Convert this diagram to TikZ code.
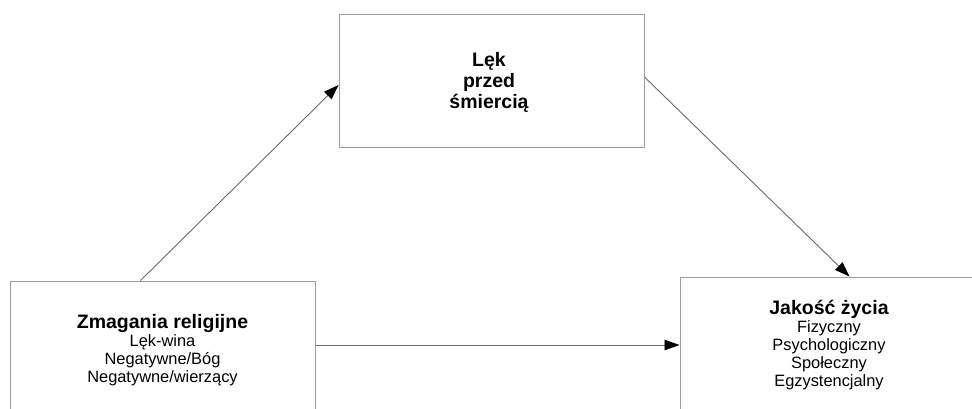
\documentclass[tikz,border=0pt]{standalone}
\usepackage{fontspec}
\setmainfont{Liberation Sans}
\usetikzlibrary{arrows.meta}
\definecolor{boxgray}{gray}{0.62}
\definecolor{linegray}{gray}{0.42}
\begin{document}
\begin{tikzpicture}[x=1pt,y=-1pt,
  box/.style={draw=boxgray, line width=1pt, minimum width=305pt, inner sep=0pt},
  conn/.style={draw=linegray, line width=0.9pt, -{Triangle[length=15pt,width=10.5pt,color=black]}},
  txt/.style={align=center, inner sep=0pt, font=\fontsize{16.4}{18}\selectfont},
  ttl/.style={font=\fontsize{19.5}{21}\selectfont\bfseries}]
\useasboundingbox (0,0) rectangle (972,408);
\clip (0,0) rectangle (972,408);
\fill[white] (0,0) rectangle (972,408);
% boxes
\node[box, minimum height=133pt] (fear) at (491.5,80.5) {};
\node[box, minimum height=140pt] (rel) at (162.5,351) {};
\node[box, minimum width=300pt, minimum height=143pt] (qol) at (830,348.5) {};
% texts
\node[txt, ttl] (feart) at (489,82.5) {Lęk\\przed\\śmiercią};
\node[txt] (relt) at (162.5,350.5) {{\fontsize{19.5}{21}\selectfont\bfseries Zmagania religijne}\\Lęk-wina\\Negatywne/Bóg\\Negatywne/wierzący};
\node[txt] (qolt) at (829,345.5) {{\fontsize{19.5}{21}\selectfont\bfseries Jakość życia}\\Fizyczny\\Psychologiczny\\Społeczny\\Egzystencjalny};
% connectors
\draw[conn] ([xshift=131pt]rel.north west) -- ([yshift=-4.5pt]fear.west);
\draw[conn] ([yshift=3.5pt]fear.east) -- ([xshift=170pt]qol.north west);
\draw[conn] ([yshift=6pt]rel.east) -- ([yshift=6pt]rel.east -| qol.west);
\end{tikzpicture}
\end{document}
